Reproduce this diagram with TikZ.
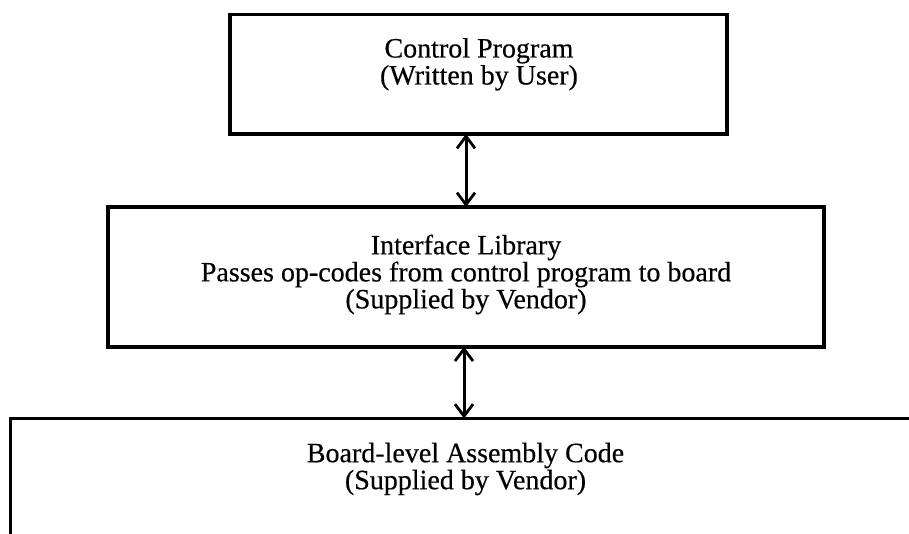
\documentclass[tikz,border=0pt]{standalone}
\usepackage{fontspec}
\setmainfont[FakeBold=0.4]{Liberation Serif}
\usetikzlibrary{arrows.meta}
\newcommand\layerfont{\fontsize{28}{27}\selectfont}
\begin{document}
\begin{tikzpicture}[x=1pt,y=-1pt,
  layer/.style={draw=black, line width=3.3pt, fill=none},
  label/.style={align=center, inner sep=0pt, font=\layerfont},
  barb/.tip={Straight Barb[length=12pt,width=18pt,line width=2.8pt]},
  link/.style={line width=3pt, {barb}-{barb}}]
  \useasboundingbox (0,0) rectangle (909,533);

  % application layer
  \draw[layer] (230,14.3) rectangle (727,134);
  \node[label] (ctrl) at (479,64.3) {Control Program\\(Written by User)};
  \coordinate (ctrlB) at (466,134);

  % vendor interface layer
  \draw[layer, line width=4pt] (108,207) rectangle (824,346.7);
  \node[label] (iface) at (466,274.5) {Interface Library\\Passes op-codes from control program to board\\(Supplied by Vendor)};
  \coordinate (ifaceT) at (466,207);
  \coordinate (ifaceB) at (464,346.7);

  % board layer, running past the page edge
  \draw[layer] (10.7,545) -- (10.7,418.5) -- (920,418.5);
  \node[label] (board) at (465.5,469) {Board-level Assembly Code\\(Supplied by Vendor)};
  \coordinate (boardT) at (464,418.5);

  \draw[link] (ctrlB) -- (ifaceT);
  \draw[link] (ifaceB) -- (boardT);
\end{tikzpicture}
\end{document}
